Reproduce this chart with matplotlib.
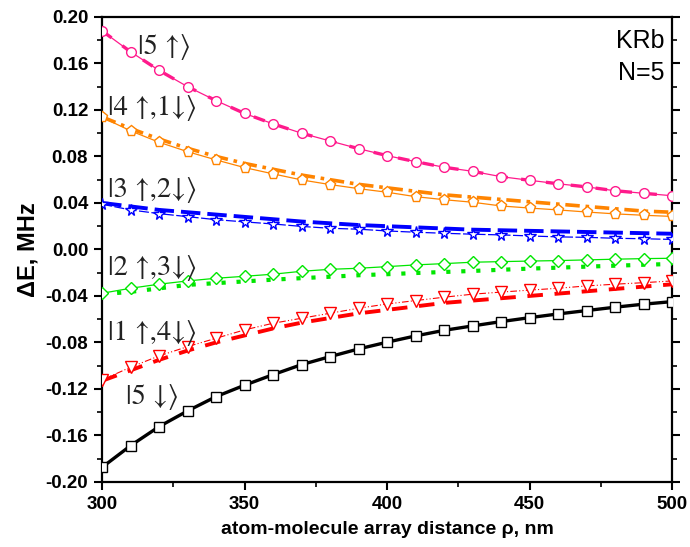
import numpy as np
import matplotlib
matplotlib.use("Agg")
import matplotlib.pyplot as plt

# distance rho, nm
rho = np.arange(300, 501, 10)

# |5 up>  (markers + thick dashed)
e_5up = [0.188, 0.170, 0.154, 0.140, 0.128, 0.117, 0.108, 0.100, 0.0933, 0.0867, 0.0807,
         0.0755, 0.0707, 0.0672, 0.0626, 0.0595, 0.0565, 0.0538, 0.0505, 0.0483, 0.0462]
# |4 up,1 down>
e_4up = [0.1137, 0.102, 0.0922, 0.0841, 0.077, 0.0704, 0.065, 0.0598, 0.0558, 0.0523, 0.0492,
         0.0454, 0.0428, 0.0406, 0.0374, 0.0356, 0.034, 0.0322, 0.0306, 0.0294, 0.0284]
e_4up_b = [0.114, 0.104, 0.095, 0.087, 0.080, 0.074, 0.069, 0.064, 0.060, 0.056, 0.053,
           0.050, 0.047, 0.045, 0.043, 0.041, 0.039, 0.037, 0.035, 0.033, 0.032]
# |3 up,2 down>
e_3up = [0.0389, 0.034, 0.0308, 0.0282, 0.0256, 0.0237, 0.0219, 0.0198, 0.0182, 0.0174, 0.0159,
         0.0148, 0.0139, 0.0131, 0.0125, 0.0116, 0.0108, 0.0104, 0.0096, 0.0092, 0.0086]
e_3up_b = [0.040, 0.037, 0.034, 0.032, 0.030, 0.028, 0.026, 0.024, 0.0225, 0.021, 0.020,
           0.019, 0.018, 0.017, 0.0165, 0.016, 0.0155, 0.015, 0.0145, 0.014, 0.0135]
# |2 up,3 down>
e_2up = [-0.0377, -0.0334, -0.0299, -0.0271, -0.0248, -0.0231, -0.0213, -0.0188, -0.0171, -0.0162, -0.0148,
         -0.0133, -0.0122, -0.0110, -0.0105, -0.0100, -0.0096, -0.0090, -0.0084, -0.0079, -0.0076]
e_2up_b = [-0.0385, -0.0365, -0.0335, -0.0305, -0.0290, -0.0275, -0.026, -0.0247, -0.0235, -0.0222, -0.0213,
           -0.0203, -0.0194, -0.0185, -0.0175, -0.0165, -0.0157, -0.0148, -0.0140, -0.0132, -0.0125]
# |1 up,4 down>
e_1up = [-0.1123, -0.1013, -0.0916, -0.0836, -0.0764, -0.0692, -0.0635, -0.0592, -0.0549, -0.0506, -0.0469,
         -0.0440, -0.0411, -0.0385, -0.0367, -0.0350, -0.0334, -0.0314, -0.0299, -0.0286, -0.0271]
e_1up_b = [-0.113, -0.104, -0.095, -0.087, -0.080, -0.074, -0.068, -0.063, -0.059, -0.055, -0.052,
           -0.049, -0.046, -0.044, -0.042, -0.040, -0.038, -0.036, -0.034, -0.032, -0.030]
# |5 down>
e_5dn = [-0.1874, -0.1688, -0.1524, -0.1389, -0.1266, -0.1168, -0.1077, -0.0991, -0.0922, -0.0856, -0.0798,
         -0.0744, -0.0696, -0.0658, -0.0621, -0.0587, -0.0555, -0.0526, -0.0497, -0.0471, -0.0449]

labels = ["|5 ↑⟩", "|4 ↑,1↓⟩", "|3 ↑,2↓⟩", "|2 ↑,3↓⟩", "|1 ↑,4↓⟩", "|5 ↓⟩"]
label_x = [312.5, 302, 302, 302, 302, 308.5]
label_y = [0.174, 0.1217, 0.0512, -0.0159, -0.0718, -0.1269]

fig = plt.figure(figsize=(6.9, 5.47), dpi=100)
ax = fig.add_axes([0.148, 0.119, 0.826, 0.850])

pink, orange, blue, green, red = "#ff1a8c", "#ff8400", "#0000ff", "#00e600", "#ff0000"

# thick lines
ax.plot(rho, e_5up, color=pink, lw=2.4, ls=(0, (3.5, 4)), zorder=3)
ax.plot(rho, e_4up_b, color=orange, lw=2.6, ls=(0, (4, 1.6, 1, 1.6)), zorder=3)
ax.plot(rho, e_3up_b, color=blue, lw=2.8, ls=(0, (5, 1.8)), zorder=3)
ax.plot(rho, e_2up_b, color=green, lw=3.0, ls=(0, (1, 2.6)), zorder=3)
ax.plot(rho, e_1up_b, color=red, lw=2.8, ls=(0, (4, 3)), zorder=3)

# thin lines with markers
mk = dict(mfc="white", mew=1.0, zorder=4)
ax.plot(rho, e_5up, color=pink, lw=0.9, marker="o", ms=7, **mk)
ax.plot(rho, e_4up, color=orange, lw=0.9, marker="p", ms=8, **mk)
ax.plot(rho, e_3up, color=blue, lw=0.9, ls=(0, (8, 2)), marker="*", ms=8.5, **mk)
ax.plot(rho, e_2up, color=green, lw=0.9, marker="D", ms=6.5, **mk)
ax.plot(rho, e_1up, color=red, lw=0.8, ls=(0, (6, 2, 1, 2, 1, 2)), marker="v", ms=8, **mk)
ax.plot(rho, e_5dn, color="black", lw=2.4, marker="s", ms=6.5, mfc="white", mec="black",
        mew=1.0, zorder=5)

for t, x, y in zip(labels, label_x, label_y):
    ax.text(x, y, t, fontsize=20.5, family=["STIXGeneral", "DejaVu Serif"],
            va="center", ha="left", color="#222222", zorder=6)

ax.text(497.5, 0.179, "KRb", fontsize=18, family="Liberation Sans", ha="right", va="center")
ax.text(497.5, 0.152, "N=5", fontsize=18, family="Liberation Sans", ha="right", va="center")

ax.set_xlim(300, 500)
ax.set_ylim(-0.20, 0.20)
ax.set_xticks(np.arange(300, 501, 50))
ax.set_xticks(np.arange(325, 500, 50), minor=True)
ax.set_yticks(np.arange(-0.20, 0.201, 0.04))
ax.set_yticks(np.arange(-0.18, 0.19, 0.04), minor=True)
ax.set_yticklabels([f"{v:.2f}" for v in np.arange(-0.20, 0.201, 0.04)])

for lab in ax.get_xticklabels() + ax.get_yticklabels():
    lab.set_fontweight("bold")
    lab.set_fontsize(13.5)
    lab.set_family("Liberation Sans")

ax.tick_params(which="major", direction="out", length=6, width=1.5, pad=4)
ax.tick_params(which="minor", direction="out", length=3.5, width=1.2)
ax.tick_params(which="both", right=True, labelright=False)
for sp in ax.spines.values():
    sp.set_linewidth(1.6)

ax.set_xlabel("atom-molecule array distance ρ, nm", fontsize=14, fontweight="bold",
              family="Liberation Sans", labelpad=6)
ax.set_ylabel("ΔE, MHz", fontsize=17, fontweight="bold", family="Liberation Sans", labelpad=4)

fig.savefig("out.png", dpi=100)
